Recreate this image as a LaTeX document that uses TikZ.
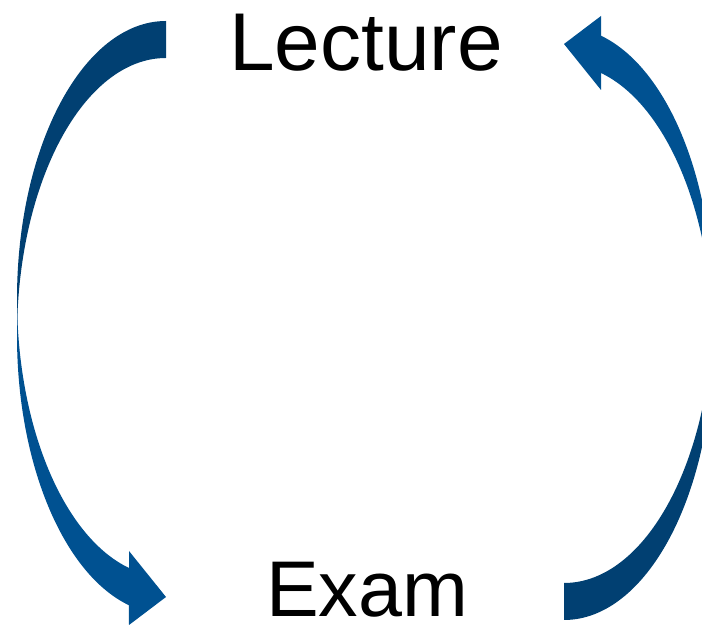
\documentclass[tikz,border=0pt]{standalone}
\usepackage{fontspec}
\setmainfont{Liberation Sans}
\usepackage{tikz}
\usetikzlibrary{positioning}
\definecolor{backblue}{RGB}{1,64,114}
\definecolor{frontblue}{RGB}{0,81,145}

\begin{document}
\begin{tikzpicture}[x=1pt,y=1pt]
\useasboundingbox (0,0) rectangle (702,626);
\clip (0,0) rectangle (702,626);
% textes
\node[anchor=base,inner sep=0pt] (lecture) at (366,555) {\fontsize{82}{98}\selectfont Lecture};
\node[anchor=base,inner sep=0pt] (exam) at (367,9) {\fontsize{79}{95}\selectfont Exam};
% fleche de gauche
\fill[backblue](166,605) arc[start angle=90,end angle=180,x radius=149,y radius=278]
  --(17,290) arc[start angle=180,end angle=90,x radius=149,y radius=278]--cycle;
\fill[frontblue](17,290) arc[start angle=180,end angle=255.6,x radius=149,y radius=278]
  --(129,1)--(166,29)--(129,75)--(129,58)
  arc[start angle=255.6,end angle=180,x radius=149,y radius=278]--cycle;
% fleche de droite
\begin{scope}[rotate around={180:(365,305.5)}]
\fill[backblue](166,605) arc[start angle=90,end angle=180,x radius=149,y radius=278]
  --(17,290) arc[start angle=180,end angle=90,x radius=149,y radius=278]--cycle;
\fill[frontblue](17,290) arc[start angle=180,end angle=255.6,x radius=149,y radius=278]
  --(129,1)--(166,29)--(129,75)--(129,58)
  arc[start angle=255.6,end angle=180,x radius=149,y radius=278]--cycle;
\end{scope}
\end{tikzpicture}
\end{document}
